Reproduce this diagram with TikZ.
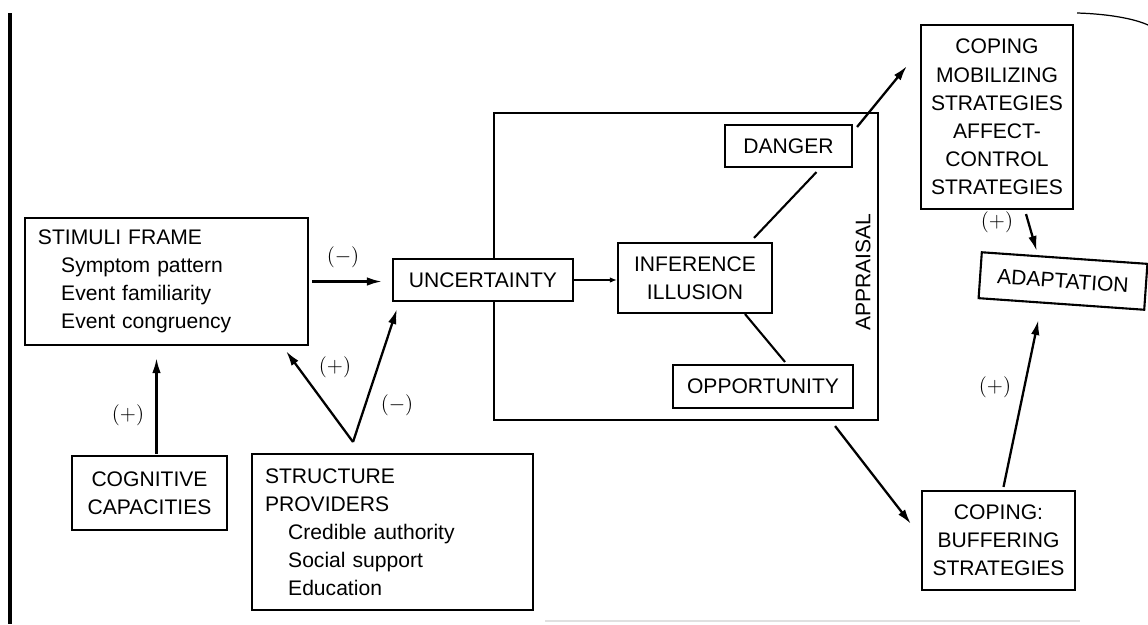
\documentclass[tikz,border=0pt]{standalone}
\usepackage{fontspec}
\setmainfont{Liberation Sans}
\usetikzlibrary{arrows.meta,calc,positioning}
\tikzstyle{block}=[draw, line width=1.2pt, align=center, font=\fontsize{12}{16}\selectfont]
\tikzstyle{listblock}=[block, align=left, inner xsep=0.26cm, inner ysep=0pt]
\tikzstyle{arrow}=[line width=1.3pt,->,>={Latex[length=3mm,width=1.7mm]}]
\tikzstyle{plain}=[font=\fontsize{12}{16}\selectfont, inner sep=0pt]
\newcommand{\ind}{\hspace*{1.1em}}

\begin{document}
\begin{tikzpicture}[x=0.2mm,y=-0.2mm]
\useasboundingbox (0,0) rectangle (1148,624);
% edge and curl of the scanned page
\draw[line width=1.8pt] (10,13) -- (10,624);
\draw[line width=0.7pt] (1077,13) .. controls (1110,14) and (1135,19) .. (1148,25);
\draw[black!12, line width=1pt] (545,621) -- (1080,621);

% appraisal frame
\node (appr) [draw, line width=1.2pt, minimum width=7.68cm, minimum height=6.14cm] at (686,266.5) {};
\node (apprlabel) [plain, rotate=90] at (863,272) {APPRAISAL};

\node (stimuli) [listblock, text width=5.14cm, minimum height=2.54cm] at (166.5,281.5)
  {STIMULI FRAME\\ \ind Symptom pattern\\ \ind Event familiarity\\ \ind Event congruency};
\node (uncert) [block, fill=white, minimum width=3.6cm, minimum height=0.84cm] at (483,280) {UNCERTAINTY};
\node (cogn) [block, minimum width=3.1cm, minimum height=1.48cm] at (149.5,493) {COGNITIVE\\CAPACITIES};
\node (struct) [listblock, text width=5.10cm, minimum height=3.12cm] at (392.5,532)
  {STRUCTURE\\PROVIDERS\\ \ind Credible authority\\ \ind Social support\\ \ind Education};
\node (danger) [block, minimum width=2.54cm, minimum height=0.84cm] at (788.5,146) {DANGER};
\node (infer) [block, minimum width=3.08cm, minimum height=1.4cm] at (695,278) {INFERENCE\\ILLUSION};
\node (oppor) [block, minimum width=3.6cm, minimum height=0.86cm] at (763,386.5) {OPPORTUNITY};
\node (mobil) [block, minimum width=3.04cm, minimum height=3.68cm] at (997,117)
  {COPING\\MOBILIZING\\STRATEGIES\\AFFECT-\\CONTROL\\STRATEGIES};
\node (adapt) [block, minimum width=3.32cm, minimum height=0.92cm, rotate=-4] at (1063,281) {ADAPTATION};
\node (buffer) [block, minimum width=3.06cm, minimum height=1.98cm] at (998.5,540.5) {COPING:\\BUFFERING\\STRATEGIES};

% connectors
\draw[arrow] ($(stimuli.east)+(3,0)$) -- ($(stimuli.east -| uncert.west)+(-10,0)$);
\draw[arrow] ($(cogn.north)+(7,-1)$) -- ($(cogn.north |- stimuli.south)+(7,12)$);
\coordinate (fork) at ($(struct.north)+(-39.5,-11)$);
\draw[arrow] (fork) -- ($(stimuli.south east)+(-23,5)$);
\draw[arrow] (fork) -- ($(uncert.south west)+(5,7)$);
\draw[arrow, >={Latex[length=1.4mm,width=1.1mm]}] (uncert.east) -- (uncert.east -| infer.west);
\draw[line width=1.2pt] ($(danger.south)+(28,4)$) -- ($(infer.north)+(59,-4)$);
\draw[line width=1.2pt] ($(infer.south)+(50,0)$) -- ($(oppor.north)+(22,-2)$);
\draw[arrow] ($(danger.north east)+(4,3)$) -- ($(mobil.north west)+(-13,42)$);
\draw[arrow] ($(appr.south east)+(-44,5)$) -- ($(buffer.north west)+(-10,34)$);
\draw[arrow] ($(mobil.south)+(29,4)$) -- ($(adapt.north)+(-28,-6)$);
\draw[arrow] ($(buffer.north)+(5,-3)$) -- ($(adapt.south)+(-23,15)$);

% signs
\node (minus1) [plain] at (343,257) {$(-)$};
\node (plus1) [plain] at (128,415) {$(+)$};
\node (plus2) [plain] at (335,367) {$(+)$};
\node (minus2) [plain] at (397,405) {$(-)$};
\node (plus3) [plain] at (997,222) {$(+)$};
\node (plus4) [plain] at (995,387) {$(+)$};
\end{tikzpicture}
\end{document}
